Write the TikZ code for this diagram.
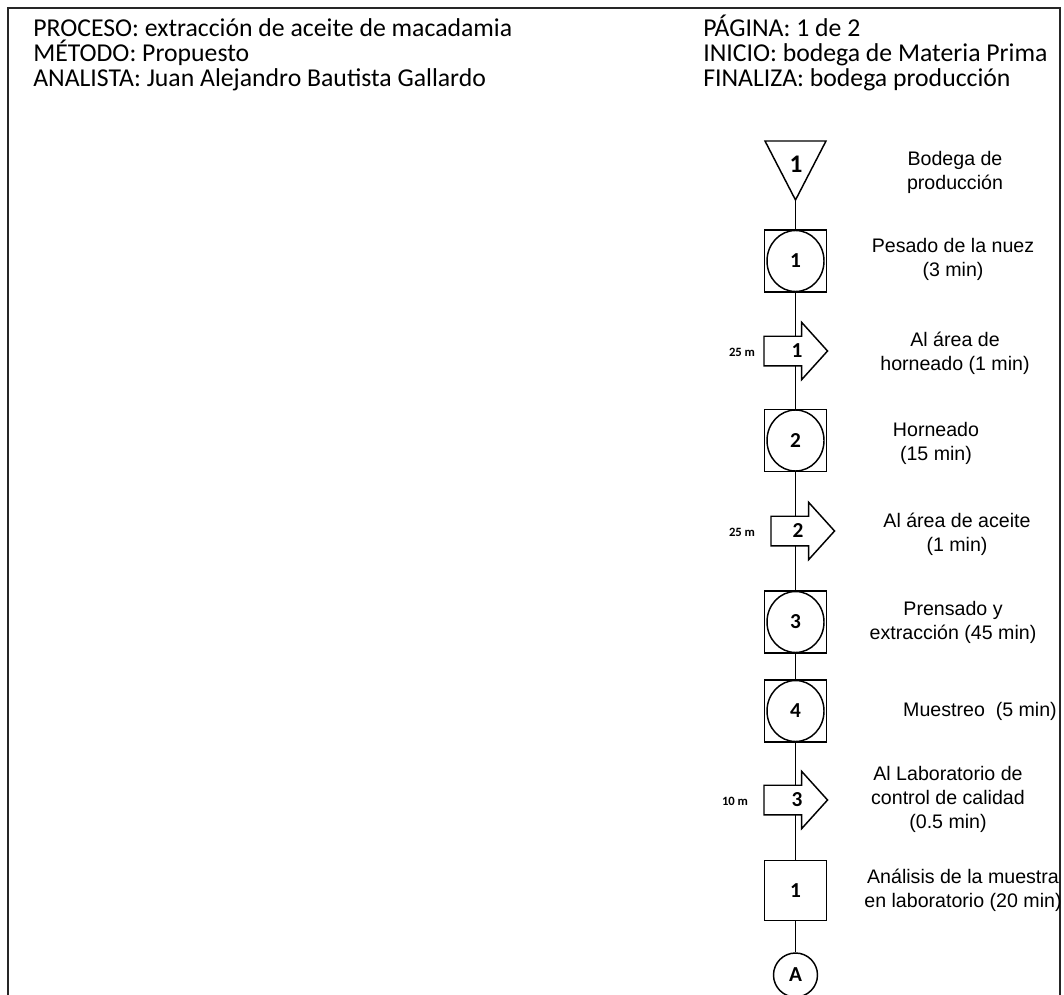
\documentclass[tikz,border=0pt]{standalone}
\usepackage{fontspec}
\setmainfont{Liberation Sans}
\newfontfamily\calib{Carlito}
\usetikzlibrary{backgrounds,calc}
\newdimen\pxu \pxu=0.75pt

\begin{document}
\begin{tikzpicture}[x=0.75pt,y=-0.75pt,
  frame/.style={draw=black!85, line width=1.3pt},
  shp/.style={draw=black, line width=1.1pt, fill=white},
  flow/.style={draw=black, line width=1.1pt},
  opbox/.style={shp, minimum width=62\pxu, minimum height=62\pxu, inner sep=0pt},
  inspbox/.style={shp, minimum width=62\pxu, minimum height=60\pxu, inner sep=0pt},
  shaft/.style={minimum width=37\pxu, minimum height=29\pxu, inner sep=0pt},
  conn/.style={shp, circle, minimum size=44\pxu, inner sep=0pt, font=\calib\bfseries\fontsize{16}{18}\selectfont},
  num/.style={font=\calib\bfseries\fontsize{16}{18}\selectfont, inner sep=0pt},
  bignum/.style={font=\calib\bfseries\fontsize{19}{22}\selectfont, inner sep=0pt},
  dist/.style={font=\calib\bfseries\fontsize{9.5}{11}\selectfont, inner sep=0pt},
  lbl/.style={align=center, inner sep=0pt, font=\fontsize{14.7}{18}\selectfont},
  head/.style={anchor=base west, inner sep=0pt, font=\calib\fontsize{19.3}{22}\selectfont}]

\useasboundingbox (0,0) rectangle (1064,995);

% page frame (open at the bottom)
\draw[frame] (8,995) -- (8,8) -- (1060,8) -- (1060,995);

% heading
\node[head] (h1) at (33,37) {PROCESO: extracción de aceite de macadamia};
\node[head] (h2) at (33,62) {MÉTODO: Propuesto};
\node[head] (h3) at (33,87) {ANALISTA: Juan Alejandro Bautista Gallardo};
\node[head] (h4) at (703,37) {PÁGINA: 1 de 2};
\node[head] (h5) at (703,62) {INICIO: bodega de Materia Prima};
\node[head] (h6) at (703,87) {FINALIZA: bodega producción};

% storage triangle
\draw[shp] (765,141) -- (826,141) -- (795.5,200) -- cycle;
\coordinate (t1) at (795.5,200);
\node[bignum] (t1n) at (796,164) {1};

% operations: circle inside a square
\foreach \n/\y in {1/261, 2/440.5, 3/622, 4/711} {
  \node[opbox] (b\n) at (795.5,\y) {};
  \draw[shp] (b\n.center) ellipse [x radius=28.5\pxu, y radius=30.5\pxu];
  \node[num] (b\n n) at (795.5,\y) {\n};
}

% transport arrows
\foreach \n/\xl/\y in {1/764/351, 2/771/531, 3/764/800} {
  \node[shaft, anchor=west] (a\n) at (\xl,\y) {};
  \draw[shp] (a\n.south west) -- (a\n.north west) -- (a\n.north east)
    -- ($(a\n.north east)+(0,-14)$) -- ($(a\n.east)+(26,0)$)
    -- ($(a\n.south east)+(0,14)$) -- (a\n.south east) -- cycle;
}
\node[num] (a1n) at (797,351) {1};
\node[num] (a2n) at (798,531) {2};
\node[num] (a3n) at (797,800) {3};

% inspection
\node[inspbox] (i1) at (795.5,890.5) {};
\node[num] (i1n) at (795.5,890.5) {1};

% connector
\node[conn] (cA) at (795.5,975) {A};

% flow line
\begin{scope}[on background layer]
  \draw[flow] (t1) -- (b1.north);
  \draw[flow] (b1.south) -- (b1.south |- a1.north);
  \draw[flow] (b1.south |- a1.south) -- (b2.north);
  \draw[flow] (b2.south) -- (b2.south |- a2.north);
  \draw[flow] (b2.south |- a2.south) -- (b3.north);
  \draw[flow] (b3.south) -- (b4.north);
  \draw[flow] (b4.south) -- (b4.south |- a3.north);
  \draw[flow] (b4.south |- a3.south) -- (i1.north);
  \draw[flow] (i1.south) -- (cA.north);
\end{scope}

% distances
\node[dist] (d1) at (742,352) {25 m};
\node[dist] (d2) at (742,532) {25 m};
\node[dist] (d3) at (735,801) {10 m};

% step descriptions
\node[lbl] (l1) at (955,172) {Bodega de\\producción};
\node[lbl] (l2) at (953,259) {Pesado de la nuez\\(3 min)};
\node[lbl] (l3) at (955,353) {Al área de\\horneado (1 min)};
\node[lbl] (l4) at (936,443) {Horneado\\(15 min)};
\node[lbl] (l5) at (957,534) {Al área de aceite\\(1 min)};
\node[lbl] (l6) at (953,622) {Prensado y\\extracción (45 min)};
\node[lbl] (l7) at (980,711) {Muestreo\ \ (5 min)};
\node[lbl] (l8) at (948,799) {Al Laboratorio de\\control de calidad\\(0.5 min)};
\node[lbl] (l9) at (963,890) {Análisis de la muestra\\en laboratorio (20 min)};
\end{tikzpicture}
\end{document}
